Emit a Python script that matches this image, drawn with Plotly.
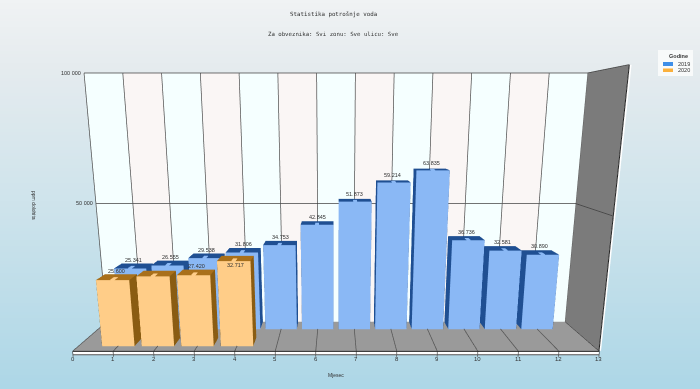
import numpy as np
import plotly.graph_objects as go

months = list(range(1, 13))
values_2019 = [25341, 26555, 29538, 31806, 34753, 42845, 51873, 59214, 63835, 36736, 32581, 30890]
labels_2019 = ["25.341", "26.555", "29.538", "31.806", "34.753", "42.845", "51.873", "59.214", "63.835", "36.736", "32.581", "30.890"]
months_2020 = [1, 2, 3, 4]
values_2020 = [25600, 27000, 27420, 32717]
labels_2020 = ["25.600", "", "27.420", "32.717"]
label_shift_2020 = [6, 6, 6, -7]
x_ticks = list(range(0, 14))
z_ticks = [50000, 100000]
z_tick_labels = ["50 000", "100 000"]

TXT = "#333333"
FONT = "Liberation Sans"
LIGHT = dict(ambient=1, diffuse=0, specular=0, fresnel=0, roughness=1)


def cuboid(x0, x1, d0, d1, z0, z1, front, side, top):
    """One box: 8 vertices and 12 triangles, returned with a colour per triangle."""
    X = [x0, x1, x1, x0, x0, x1, x1, x0]
    Y = [d0, d0, d1, d1, d0, d0, d1, d1]
    Z = [z0, z0, z0, z0, z1, z1, z1, z1]
    faces = [
        (0, 1, 5, front), (0, 5, 4, front),
        (0, 3, 7, side), (0, 7, 4, side),
        (1, 2, 6, side), (1, 6, 5, side),
        (4, 5, 6, top), (4, 6, 7, top),
    ]
    return X, Y, Z, faces


def mesh(boxes, name):
    xs, ys, zs, i, j, k, fc = [], [], [], [], [], [], []
    for b in boxes:
        X, Y, Z, faces = cuboid(*b)
        n = len(xs)
        xs += X
        ys += Y
        zs += Z
        for a, c, e, col in faces:
            i.append(a + n)
            j.append(c + n)
            k.append(e + n)
            fc.append(col)
    return go.Mesh3d(x=xs, y=ys, z=zs, i=i, j=j, k=k, facecolor=fc, name=name, flatshading=True,
                     lighting=LIGHT, hoverinfo="skip", showscale=False)


def plane(corners, color, name):
    """A flat quad given as four (x, depth, z) corners."""
    xs, ys, zs = zip(*corners)
    return go.Mesh3d(x=list(xs), y=list(ys), z=list(zs), i=[0, 0], j=[1, 2], k=[2, 3],
                     facecolor=[color, color], name=name, flatshading=True,
                     lighting=LIGHT, hoverinfo="skip", showscale=False)


def line(xs, ys, zs, color, width=1.5):
    return go.Scatter3d(x=xs, y=ys, z=zs, mode="lines", line=dict(color=color, width=width),
                        hoverinfo="skip", showlegend=False)


traces = []
TOP = z_ticks[-1]
FLOOR_EDGE = -1200

# back wall bands, side wall, floor, each a single flat plane
for m in x_ticks[:-1]:
    col = "#f5ffff" if m % 2 == 0 else "#faf6f5"
    traces.append(plane([(m, 1, 0), (m + 1, 1, 0), (m + 1, 1, TOP), (m, 1, TOP)], col, "wall"))
traces.append(plane([(13, 0, 0), (13, 1, 0), (13, 1, TOP), (13, 0, TOP)], "#7b7b7b", "side"))
traces.append(plane([(13.05, 0, 0), (13.05, 1, 0), (13.05, 1, TOP), (13.05, 0, TOP)], "#ffffff", "side edge"))
traces.append(plane([(0, 0, 0), (13, 0, 0), (13, 1, 0), (0, 1, 0)], "#9a9a9a", "floor"))
traces.append(plane([(0, 0, FLOOR_EDGE), (13, 0, FLOOR_EDGE), (13, 0, 0), (0, 0, 0)], "#ffffff", "floor edge"))

# grid, lifted slightly off the planes
E = 0.012
for m in x_ticks:
    traces.append(line([m, m], [1 - E, 1 - E], [0, TOP], "#555555"))
    traces.append(line([m, m], [0, 1], [150, 150], "#555555"))
    traces.append(line([m, m], [-E, -E], [0, -2000], "#555555"))
for zt in z_ticks:
    traces.append(line([0, 12.98, 12.98], [1 - E, 1 - E, 0], [zt, zt, zt], "#444444"))
traces.append(line([0, 13], [-E, -E], [100, 100], "#222222", 2))
traces.append(line([13, 13], [0, 0], [0, TOP], "#222222", 2))
traces.append(line([13, 13], [0, 1], [TOP, TOP], "#222222", 1.5))
traces.append(line([13, 13], [0, 1], [150, 150], "#222222", 1.5))
traces.append(line([0, 13], [-E, -E], [FLOOR_EDGE, FLOOR_EDGE], "#555555", 2))

# bars
B_W, B_D0, B_D1 = 0.43, 0.72, 0.98
O_W, O_D0, O_D1 = 0.41, 0.15, 0.41
CAP_W = 0.05
CAP_D = 0.10
BLUE = ("#8ab8f5", "#1f4f92", "#1f4f92")
ORANGE = ("#ffcd88", "#8a5c12", "#a9701b")
traces.append(mesh([(m - B_W, m + B_W, B_D0, B_D1, 0, v, *BLUE)
                    for m, v in zip(months, values_2019)], "2019"))
traces.append(mesh([(m - CAP_W, m + CAP_W, B_D0 - 0.005, B_D0 + CAP_D, v, v + 250, "#8ab8f5", "#8ab8f5", "#8ab8f5")
                    for m, v in zip(months, values_2019)], "2019 caps"))
traces.append(mesh([(m - O_W, m + O_W, O_D0, O_D1, 0, v, *ORANGE)
                    for m, v in zip(months_2020, values_2020)], "2020"))
traces.append(mesh([(m - CAP_W, m + CAP_W, O_D0 - 0.005, O_D0 + CAP_D, v, v + 250, "#ffcd88", "#ffcd88", "#ffcd88")
                    for m, v in zip(months_2020, values_2020)], "2020 caps"))

annotations3d = []
for m, v, t in zip(months, values_2019, labels_2019):
    annotations3d.append(dict(x=m, y=(B_D0 + B_D1) / 2, z=v, text=t, showarrow=False, yshift=6,
                              font=dict(family=FONT, size=5.5, color=TXT)))
for m, v, t, s in zip(months_2020, values_2020, labels_2020, label_shift_2020):
    if t:
        annotations3d.append(dict(x=m, y=(O_D0 + O_D1) / 2, z=v, text=t, showarrow=False, yshift=s,
                                  font=dict(family=FONT, size=5.5, color=TXT)))
for m in x_ticks:
    annotations3d.append(dict(x=m, y=0, z=0, text=str(m), showarrow=False, yshift=-8,
                              font=dict(family=FONT, size=6, color=TXT)))
for zt, t in zip(z_ticks, z_tick_labels):
    annotations3d.append(dict(x=0, y=1, z=zt, text=t, showarrow=False, xanchor="right", xshift=-1,
                              font=dict(family=FONT, size=5.5, color=TXT)))

# page background: vertical gradient drawn as thin bands
stops = [(0, (240, 243, 244)), (60, (230, 236, 239)), (200, (207, 228, 236)), (389, (173, 215, 231))]
shapes = []
for y in range(0, 389, 3):
    for (y0, c0), (y1, c1) in zip(stops, stops[1:]):
        if y0 <= y <= y1:
            f = (y - y0) / (y1 - y0)
            c = tuple(int(a + (b - a) * f) for a, b in zip(c0, c1))
            break
    shapes.append(dict(type="rect", xref="paper", yref="paper", x0=0, x1=1,
                       y0=1 - (y + 3) / 389, y1=1 - y / 389, line_width=0, layer="below",
                       fillcolor=f"rgb{c}"))


def px(x):
    return x / 700


def py(y):
    return 1 - y / 389


# legend box
shapes.append(dict(type="rect", xref="paper", yref="paper", x0=px(658), x1=px(693), y0=py(76), y1=py(50),
                   fillcolor="#f8fafa", line_width=0, layer="above"))
shapes.append(dict(type="rect", xref="paper", yref="paper", x0=px(663), x1=px(673), y0=py(66), y1=py(62),
                   fillcolor="#3d8ee8", line_width=0, layer="above"))
shapes.append(dict(type="rect", xref="paper", yref="paper", x0=px(663), x1=px(673), y0=py(72), y1=py(68.5),
                   fillcolor="#fab03c", line_width=0, layer="above"))


def note(x, y, text, size=5.5, family=FONT, color=TXT, anchor="center", angle=0):
    return dict(xref="paper", yref="paper", x=px(x), y=py(y), text=text, showarrow=False, xanchor=anchor,
                yanchor="middle", textangle=angle, font=dict(family=family, size=size, color=color))


annotations2d = [
    note(333, 14, "Statistika potrošnje voda", 5.8, "DejaVu Sans Mono"),
    note(333, 34, "Za obveznika: Svi zonu: Sve ulicu: Sve", 5.7, "DejaVu Sans Mono"),
    note(336, 375, "Mjesec", 5),
    note(34, 205, "ppm dolohita", 5, angle=90),
    note(678, 56, "<b>Godine</b>", 5.5),
    note(676, 64, "2019", 5.5, anchor="left"),
    note(676, 70.5, "2020", 5.5, anchor="left"),
]

hidden = dict(visible=False, showgrid=False, zeroline=False, showticklabels=False, showspikes=False)
X_RANGE = [-0.1, 13.1]
Y_RANGE = [-0.02, 1.02]
Z_RANGE = [-2000, 102000]
fig = go.Figure(traces)
fig.update_layout(
    width=700, height=389, margin=dict(l=0, r=0, t=0, b=0), showlegend=False,
    paper_bgcolor="rgba(0,0,0,0)", plot_bgcolor="rgba(0,0,0,0)",
    shapes=shapes, annotations=annotations2d,
    scene=dict(
        domain=dict(x=[0, 672 / 700], y=[0, 1 - 14 / 389]),
        bgcolor="rgba(0,0,0,0)",
        xaxis=dict(range=X_RANGE, **hidden),
        yaxis=dict(range=Y_RANGE, **hidden),
        zaxis=dict(range=Z_RANGE, **hidden),
        aspectmode="manual",
        aspectratio=dict(x=2 * 13.2 / 13, y=0.26 * 1.04, z=1.051 * 1.04),
        camera=dict(eye=dict(x=0, y=-1.73, z=0.3275), center=dict(x=0, y=0, z=0.03),
                    up=dict(x=0, y=0, z=1), projection=dict(type="perspective")),
        annotations=annotations3d,
    ),
)
fig.write_html("out.html", config=dict(displayModeBar=False),
               post_script="document.body.style.margin='0';document.documentElement.style.overflow='hidden';")
